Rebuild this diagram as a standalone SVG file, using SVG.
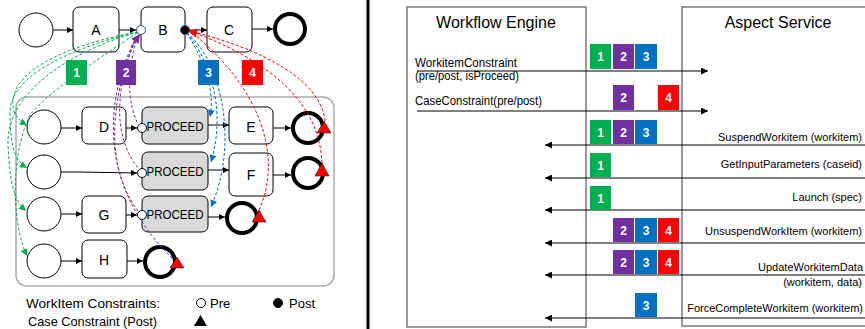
<svg xmlns="http://www.w3.org/2000/svg" width="865" height="329" viewBox="0 0 865 329">
<style>
text{font-family:"Liberation Sans",Arial,sans-serif;fill:#000}
.node{fill:#fff;stroke:#000;stroke-width:1}
.proc{fill:#d9d9d9;stroke:#000;stroke-width:1}
.start{fill:#fff;stroke:#000;stroke-width:1}
.end{fill:#fff;stroke:#000;stroke-width:4}
.lbl{font-size:14px;text-anchor:middle}
.flow{fill:none;stroke:#000;stroke-width:1;marker-end:url(#ab)}
.g{fill:none;stroke:#00b050;stroke-width:1;stroke-dasharray:3 2;marker-end:url(#ag)}
.p{fill:none;stroke:#7030a0;stroke-width:1;stroke-dasharray:3 2}
.b{fill:none;stroke:#0070c0;stroke-width:1;stroke-dasharray:3 2;marker-end:url(#abl)}
.r{fill:none;stroke:#ff0000;stroke-width:1;stroke-dasharray:3 2}
.badge text{fill:#fff;font-size:12px;font-weight:bold;text-anchor:middle}
.box{fill:none;stroke:#777;stroke-width:1.5}
.msg{fill:none;stroke:#000;stroke-width:1.2}
.t{font-size:12px}
.te{font-size:11px;text-anchor:end}
.tri{fill:#ff0000;stroke:#000;stroke-width:0.5}
</style>
<defs>
<marker id="ab" viewBox="0 0 10 10" refX="10" refY="5" markerWidth="7" markerHeight="6" orient="auto" markerUnits="userSpaceOnUse"><path d="M0,0 L10,5 L0,10 z" fill="#000"/></marker>
<marker id="ag" viewBox="0 0 10 10" refX="10" refY="5" markerWidth="8" markerHeight="7" orient="auto" markerUnits="userSpaceOnUse"><path d="M0,0 L10,5 L0,10 z" fill="#00b050"/></marker>
<marker id="abl" viewBox="0 0 10 10" refX="10" refY="5" markerWidth="8" markerHeight="7" orient="auto" markerUnits="userSpaceOnUse"><path d="M0,0 L10,5 L0,10 z" fill="#0070c0"/></marker>
<marker id="ap" viewBox="0 0 10 10" refX="10" refY="5" markerWidth="10" markerHeight="9" orient="auto" markerUnits="userSpaceOnUse"><path d="M0,0 L10,5 L0,10 z" fill="#7030a0"/></marker>
<marker id="ar" viewBox="0 0 10 10" refX="10" refY="5" markerWidth="12" markerHeight="9" orient="auto" markerUnits="userSpaceOnUse"><path d="M0,0 L10,5 L0,10 z" fill="#ff0000"/></marker>
<marker id="am" viewBox="0 0 10 10" refX="10" refY="5" markerWidth="11" markerHeight="7" orient="auto" markerUnits="userSpaceOnUse"><path d="M0,0 L10,5 L0,10 z" fill="#000"/></marker>
</defs>

<!-- container -->
<rect id="container" x="16" y="97" width="318" height="189" rx="11" fill="none" stroke="#aaa" stroke-width="1.5"/>

<!-- top process -->
<g id="top-start"><circle class="start" cx="36" cy="30" r="17"/></g>
<g id="A"><rect class="node" x="73" y="7" width="46" height="45" rx="6"/><text class="lbl" x="96" y="35">A</text></g>
<g id="B"><rect class="node" x="141" y="7" width="44" height="45" rx="6"/><text class="lbl" x="163" y="35">B</text></g>
<g id="C"><rect class="node" x="207" y="7" width="45" height="45" rx="6"/><text class="lbl" x="229" y="35">C</text></g>
<g id="top-end"><circle class="end" cx="290" cy="29" r="15"/></g>

<!-- subprocess rows -->
<g id="r1-start"><circle class="start" cx="44" cy="127" r="17"/></g>
<g id="D"><rect class="node" x="82" y="107" width="44" height="37" rx="6"/><text class="lbl" x="104" y="132">D</text></g>
<g id="P1"><rect class="proc" x="142" y="107" width="66" height="37" rx="6"/><text x="175" y="131" font-size="13" text-anchor="middle" textLength="57" lengthAdjust="spacingAndGlyphs">PROCEED</text></g>
<g id="E"><rect class="node" x="229" y="107" width="44" height="37" rx="6"/><text class="lbl" x="251" y="132">E</text></g>
<g id="r1-end"><circle class="end" cx="308" cy="128" r="15"/></g>

<g id="r2-start"><circle class="start" cx="44" cy="172" r="17"/></g>
<g id="P2"><rect class="proc" x="142" y="152" width="66" height="38" rx="6"/><text x="175" y="176" font-size="13" text-anchor="middle" textLength="57" lengthAdjust="spacingAndGlyphs">PROCEED</text></g>
<g id="F"><rect class="node" x="229" y="153" width="44" height="43" rx="6"/><text class="lbl" x="251" y="180">F</text></g>
<g id="r2-end"><circle class="end" cx="308" cy="173" r="15"/></g>

<g id="r3-start"><circle class="start" cx="44" cy="214" r="17"/></g>
<g id="G"><rect class="node" x="82" y="196" width="44" height="37" rx="6"/><text class="lbl" x="104" y="220">G</text></g>
<g id="P3"><rect class="proc" x="142" y="196" width="66" height="36" rx="6"/><text x="175" y="219" font-size="13" text-anchor="middle" textLength="57" lengthAdjust="spacingAndGlyphs">PROCEED</text></g>
<g id="r3-end"><circle class="end" cx="242" cy="218" r="15"/></g>

<g id="r4-start"><circle class="start" cx="44" cy="261" r="17"/></g>
<g id="H"><rect class="node" x="82" y="240" width="45" height="38" rx="6"/><text class="lbl" x="104" y="265">H</text></g>
<g id="r4-end"><circle class="end" cx="160" cy="262" r="15"/></g>

<!-- connectors -->
<g id="connectors">
<path class="flow" d="M53,30 H73"/>
<path class="flow" d="M119,30 H136"/>
<path class="flow" d="M190,30 H207"/>
<path class="flow" d="M252,29 H273"/>
<path class="flow" d="M61,128 H82"/>
<path class="flow" d="M126,128 H137"/>
<path class="flow" d="M208,125 H229"/>
<path class="flow" d="M273,128 H291"/>
<path class="flow" d="M61,172 L78,172 L137,173"/>
<path class="flow" d="M208,170 H229"/>
<path class="flow" d="M273,175 H291"/>
<path class="flow" d="M61,214 H82"/>
<path class="flow" d="M126,215 H137"/>
<path class="flow" d="M208,217 H225"/>
<path class="flow" d="M61,261 H82"/>
<path class="flow" d="M127,261 H143"/>

<!-- green (1) -->
<path class="g" d="M138,32 C90,40 22,62 14,95 C10,110 16,119 27,125"/>
<path class="g" d="M138,32 C85,44 10,72 10,112 C10,145 14,160 27,168"/>
<path class="g" d="M138,32 C80,48 6,88 8,145 C10,185 14,200 26,211"/>
<path class="g" d="M137,33 C100,58 50,90 30,115 C12,150 10,220 27,256"/>

<!-- purple (2) -->
<path class="p" d="M137,36 C128,70 126,100 138,124"/>
<path class="p" d="M137,36 C120,75 108,130 138,168"/>
<path class="p" d="M137,36 C115,85 100,160 138,211"/>
<path class="p" d="M137,36 C108,90 92,180 172,258"/>
<path d="M131,47 L140,34" fill="none" stroke="#7030a0" stroke-width="1" marker-end="url(#ap)"/>

<!-- blue (3) -->
<path class="b" d="M187,33 C200,55 216,85 210,117"/>
<path class="b" d="M187,33 C206,55 228,105 211,162"/>
<path class="b" d="M187,33 C216,55 242,135 211,207"/>

<!-- red (4) -->
<path class="r" d="M325,121 C322,90 285,55 190,31"/>
<path class="r" d="M322,163 C320,120 295,70 190,31"/>
<path class="r" d="M259,210 C282,160 264,90 190,31"/>
<path d="M200,34 L188,31" fill="none" stroke="#ff0000" stroke-width="1" marker-end="url(#ar)"/>
</g>

<!-- constraint markers -->
<g id="markers">
<circle cx="141" cy="30" r="4.5" fill="#fff" stroke="#2f5597" stroke-width="1"/>
<circle cx="185" cy="30" r="4.5" fill="#000" stroke="#2f5597" stroke-width="1"/>
<circle cx="142" cy="128" r="4.5" fill="#fff" stroke="#000" stroke-width="1"/>
<circle cx="142" cy="173" r="4.5" fill="#fff" stroke="#000" stroke-width="1"/>
<circle cx="142" cy="215" r="4.5" fill="#fff" stroke="#000" stroke-width="1"/>
<polygon class="tri" points="324,121 317,133 331,133"/>
<polygon class="tri" points="322,163 315,176 329,176"/>
<polygon class="tri" points="259,210 252,222 266,222"/>
<polygon class="tri" points="177,257 170,268 184,268"/>
</g>

<!-- left badges -->
<g id="badge-1" class="badge"><rect x="66" y="60" width="21" height="25" fill="#00b050"/><text x="76.5" y="77">1</text></g>
<g id="badge-2" class="badge"><rect x="116" y="60" width="20" height="25" fill="#7030a0"/><text x="126" y="77">2</text></g>
<g id="badge-3" class="badge"><rect x="198" y="60" width="21" height="25" fill="#0070c0"/><text x="208.5" y="77">3</text></g>
<g id="badge-4" class="badge"><rect x="242" y="60" width="21" height="25" fill="#ff0000"/><text x="252.5" y="77">4</text></g>

<!-- legend -->
<g id="legend">
<text x="26" y="308" font-size="13" textLength="134" lengthAdjust="spacingAndGlyphs">WorkItem Constraints:</text>
<circle cx="201" cy="303" r="4.5" fill="#fff" stroke="#000" stroke-width="1"/>
<text x="210" y="308" font-size="13">Pre</text>
<circle cx="278" cy="303" r="4.5" fill="#000" stroke="#000" stroke-width="1"/>
<text x="289" y="308" font-size="13">Post</text>
<text x="28" y="326" font-size="13" textLength="129" lengthAdjust="spacingAndGlyphs">Case Constraint (Post)</text>
<polygon points="200.5,315 194,326 207,326" fill="#000"/>
</g>

<!-- divider -->
<line x1="368" y1="0" x2="368" y2="329" stroke="#000" stroke-width="3"/>

<!-- right side -->
<g id="workflow-engine"><rect class="box" x="407" y="7" width="179" height="320"/><text x="496" y="28" font-size="16" text-anchor="middle">Workflow Engine</text></g>
<g id="aspect-service"><rect class="box" x="682" y="7" width="190" height="319"/><text x="778" y="28" font-size="16" text-anchor="middle">Aspect Service</text></g>

<g id="messages">
<path class="msg" d="M417,71 H708" marker-end="url(#am)"/>
<path class="msg" d="M417,111 H708" marker-end="url(#am)"/>
<path class="msg" d="M866,145 H545" marker-end="url(#am)"/>
<path class="msg" d="M866,178 H545" marker-end="url(#am)"/>
<path class="msg" d="M866,210 H545" marker-end="url(#am)"/>
<path class="msg" d="M866,243 H545" marker-end="url(#am)"/>
<path class="msg" d="M866,275 H545" marker-end="url(#am)"/>
<path class="msg" d="M866,318 H545" marker-end="url(#am)"/>
</g>

<g id="message-labels">
<text class="t" x="415" y="67" textLength="102" lengthAdjust="spacingAndGlyphs">WorkitemConstraint</text>
<text class="t" x="415" y="80" textLength="104" lengthAdjust="spacingAndGlyphs">(pre/post, isProceed)</text>
<text class="t" x="415" y="105" textLength="127" lengthAdjust="spacingAndGlyphs">CaseConstraint(pre/post)</text>
<text class="te" x="862" y="141">SuspendWorkitem (workitem)</text>
<text class="te" x="862" y="168">GetInputParameters (caseid)</text>
<text class="te" x="862" y="201">Launch (spec)</text>
<text class="te" x="862" y="235">UnsuspendWorkItem (workitem)</text>
<text class="te" x="863" y="271">UpdateWorkitemData</text>
<text class="te" x="862" y="286">(workitem, data)</text>
<text class="te" x="863" y="312" font-size="10.8">ForceCompleteWorkitem (workitem)</text>
</g>

<g id="right-badges" class="badge">
<rect x="590" y="44" width="21" height="25" fill="#00b050"/><text x="600.5" y="61">1</text>
<rect x="613" y="44" width="21" height="25" fill="#7030a0"/><text x="623.5" y="61">2</text>
<rect x="635" y="44" width="22" height="25" fill="#0070c0"/><text x="646" y="61">3</text>
<rect x="613" y="85" width="21" height="25" fill="#7030a0"/><text x="623.5" y="102">2</text>
<rect x="658" y="85" width="21" height="25" fill="#ff0000"/><text x="668.5" y="102">4</text>
<rect x="590" y="120" width="21" height="24" fill="#00b050"/><text x="600.5" y="137">1</text>
<rect x="613" y="120" width="21" height="24" fill="#7030a0"/><text x="623.5" y="137">2</text>
<rect x="635" y="120" width="22" height="24" fill="#0070c0"/><text x="646" y="137">3</text>
<rect x="590" y="153" width="21" height="24" fill="#00b050"/><text x="600.5" y="170">1</text>
<rect x="590" y="186" width="21" height="24" fill="#00b050"/><text x="600.5" y="203">1</text>
<rect x="613" y="218" width="21" height="24" fill="#7030a0"/><text x="623.5" y="235">2</text>
<rect x="635" y="218" width="22" height="24" fill="#0070c0"/><text x="646" y="235">3</text>
<rect x="658" y="218" width="21" height="24" fill="#ff0000"/><text x="668.5" y="235">4</text>
<rect x="613" y="250" width="21" height="24" fill="#7030a0"/><text x="623.5" y="267">2</text>
<rect x="635" y="250" width="22" height="24" fill="#0070c0"/><text x="646" y="267">3</text>
<rect x="658" y="250" width="21" height="24" fill="#ff0000"/><text x="668.5" y="267">4</text>
<rect x="635" y="293" width="22" height="24" fill="#0070c0"/><text x="646" y="310">3</text>
</g>
</svg>
